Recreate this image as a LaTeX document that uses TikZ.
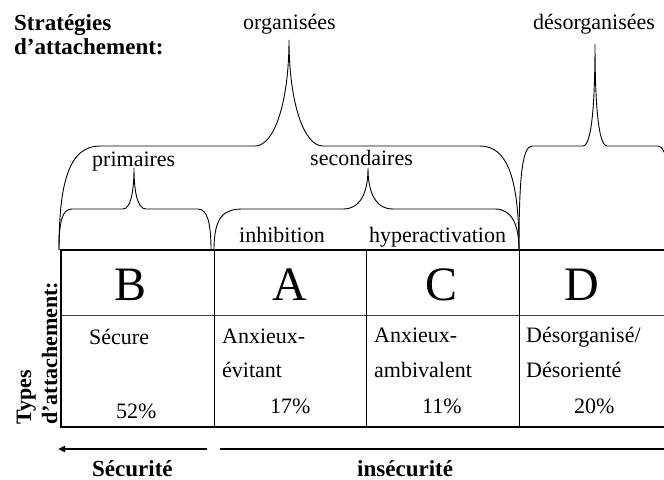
\documentclass[tikz,border=0pt]{standalone}
\usepackage{fontspec}
\setmainfont{Liberation Serif}
\usetikzlibrary{arrows.meta}
\begin{document}
\begin{tikzpicture}[x=1bp,y=-1bp,
  txt/.style={anchor=base west,inner sep=0pt,font=\fontsize{22bp}{24bp}\selectfont},
  btxt/.style={anchor=base west,inner sep=0pt,font=\fontsize{23bp}{24bp}\selectfont\bfseries},
  rtxt/.style={anchor=base west,inner sep=0pt,rotate=90,font=\fontsize{22bp}{24bp}\selectfont\bfseries},
  letter/.style={anchor=base,inner sep=0pt,font=\fontsize{48bp}{50bp}\selectfont},
  brace/.style={draw=black,line width=0.9bp},
  heavyrule/.style={draw=black,line width=2bp},
  lightrule/.style={draw=black,line width=1bp}]
\clip (0,0) rectangle (664,480);

% titles
\node[btxt] (strat1) at (14,31) {Stratégies};
\node[btxt] (strat2) at (14,55) {d’attachement:};
\node[txt] (org) at (243,30) {organisées};
\node[txt] (desorg) at (533,30) {désorganisées};
\node[txt] (prim) at (92,167) {primaires};
\node[txt] (sec) at (310,166) {secondaires};
\node[txt] (inhib) at (239,243) {inhibition};
\node[txt] (hyper) at (369,243) {hyperactivation};

% braces
\draw[brace] (59,250) .. controls (59,180) and (70,146) .. (100,146) -- (255,146)
  .. controls (275,146) and (289,100) .. (289,40)
  .. controls (289,100) and (303,146) .. (323,146) -- (480,146)
  .. controls (508,146) and (519,180) .. (519,250);
\draw[brace] (59,250) .. controls (59,222) and (62,209) .. (72,209) -- (123,209)
  .. controls (131,209) and (134,190) .. (134,168)
  .. controls (134,190) and (137,209) .. (146,209) -- (198,209)
  .. controls (207,209) and (211,222) .. (211,250);
\draw[brace] (214,250) .. controls (214,215) and (225,209) .. (243,209) -- (343,209)
  .. controls (362,209) and (368,190) .. (368,168)
  .. controls (368,190) and (374,209) .. (393,209) -- (495,209)
  .. controls (512,209) and (519,225) .. (519,250);
\draw[brace] (519,250) .. controls (519,180) and (522,146) .. (532,146) -- (583,146)
  .. controls (592,146) and (595,100) .. (595,44)
  .. controls (595,100) and (598,146) .. (607,146) -- (658,146)
  .. controls (668,146) and (671,180) .. (671,250);

% table
\draw[lightrule,draw=black!75] (61,315) -- (670,315);
\draw[lightrule] (214,250) -- (214,427);
\draw[lightrule] (366,250) -- (366,427);
\draw[lightrule] (519,250) -- (519,427);
\draw[draw=black,line width=1.5bp] (61,250) -- (61,427);
\draw[heavyrule] (60.25,250) -- (670,250);
\draw[heavyrule] (60.25,427) -- (670,427);

% letters
\node[letter] (lB) at (131,300) {B};
\node[letter] (lA) at (290,300) {A};
\node[letter] (lC) at (442,300) {C};
\node[letter] (lD) at (582,300) {D};

% cell texts
\node[txt] (secure) at (89,344) {Sécure};
\node[txt] (p52) at (116,418) {52\%};
\node[txt] (anx1) at (222,343) {Anxieux-};
\node[txt] (evit) at (222,377) {évitant};
\node[txt] (p17) at (270,413) {17\%};
\node[txt] (anx2) at (374,342) {Anxieux-};
\node[txt] (ambi) at (374,377) {ambivalent};
\node[txt] (p11) at (422,413) {11\%};
\node[txt] (desorg1) at (526,342) {Désorganisé/};
\node[txt] (desorg2) at (526,377) {Désorienté};
\node[txt] (p20) at (574,413) {20\%};

% side label
\node[rtxt] (types1) at (31,425) {Types};
\node[rtxt] (types2) at (57,425) {d’attachement:};

% arrows
\coordinate (secA) at (207,449);
\coordinate (secB) at (58,449);
\coordinate (insA) at (220,449);
\coordinate (insB) at (670,449);
\draw[line width=2bp,-{Triangle[length=7bp,width=6bp]}] (secA) -- (secB);
\draw[line width=2bp] (insA) -- (insB);
\node[btxt] (securite) at (92,476) {Sécurité};
\node[btxt] (insecurite) at (357,476) {insécurité};
\end{tikzpicture}
\end{document}
